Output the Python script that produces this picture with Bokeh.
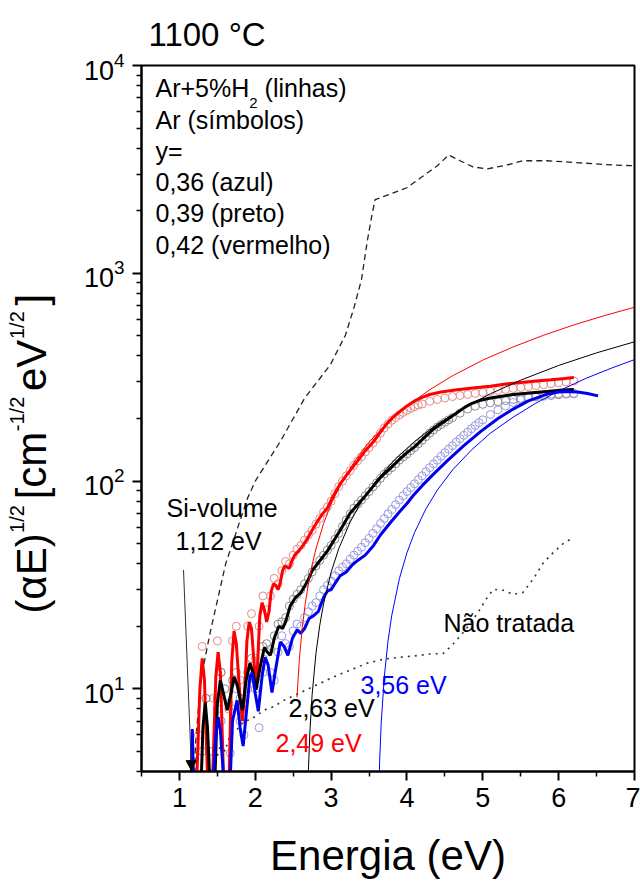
import math
from bokeh.plotting import figure
from bokeh.layouts import row
from bokeh.models import Label, Arrow, NormalHead, FixedTicker, Range1d
from bokeh.embed import file_html
from bokeh.resources import INLINE

FONT = "Liberation Sans"

# ---------------- data ----------------
x_ticks = [1, 2, 3, 4, 5, 6, 7]
x_tick_labels = ["1", "2", "3", "4", "5", "6", "7"]
x_minor = [0.5, 1.5, 2.5, 3.5, 4.5, 5.5, 6.5]
y_ticks = [10, 100, 1000, 10000]
y_minor = [4, 5, 6, 7, 8, 9, 20, 30, 40, 50, 60, 70, 80, 90,
           200, 300, 400, 500, 600, 700, 800, 900,
           2000, 3000, 4000, 5000, 6000, 7000, 8000, 9000]

# thick lines: Ar+5%H2
red_thick_e = [1.22, 1.27, 1.30, 1.33, 1.38, 1.43, 1.48, 1.51, 1.54, 1.59, 1.65, 1.69, 1.72, 1.75, 1.80,
               1.83, 1.86, 1.89, 1.92, 1.95, 1.99, 2.01, 2.03, 2.06, 2.09, 2.12, 2.15, 2.18, 2.21, 2.24,
               2.27, 2.30, 2.33, 2.36, 2.39, 2.42, 2.45, 2.48, 2.52, 2.57, 2.63, 2.69, 2.75, 2.82, 2.88,
               2.95, 3.03, 3.12, 3.23, 3.35, 3.45, 3.56, 3.65, 3.74, 3.82, 3.90, 4.00, 4.10, 4.20, 4.30,
               4.45, 4.66, 4.90, 5.10, 5.30, 5.50, 5.70, 5.90, 6.05, 6.20]
red_thick_y = [3.0, 10.0, 14.0, 11.0, 3.0, 3.0, 11.5, 15.0, 12.0, 3.0, 3.0, 13.5, 19.0, 16.5, 9.0,
               7.0, 9.5, 17.0, 21.0, 19.5, 12.5, 11.0, 13.0, 22.5, 26.0, 24.0, 21.0, 23.5, 29.5, 32.0,
               31.5, 30.0, 32.5, 37.0, 39.0, 38.5, 38.0, 41.0, 44.0, 46.0, 49, 53, 58, 64, 69,
               74, 85, 97, 110, 125, 140, 155, 172, 190, 203, 215, 230, 243, 253, 261,
               268, 275, 281, 286, 293, 298, 303, 307, 311, 315]

black_thick_e = [1.28, 1.31, 1.34, 1.37, 1.41, 1.46, 1.50, 1.54, 1.58, 1.63, 1.68, 1.72, 1.76, 1.83, 1.88,
                 1.93, 1.97, 2.01, 2.06, 2.12, 2.16, 2.20, 2.25, 2.31, 2.36, 2.40, 2.46, 2.53, 2.60, 2.69,
                 2.75, 2.82, 2.95, 3.04, 3.12, 3.25, 3.43, 3.55, 3.65, 3.78, 3.90, 4.00, 4.10, 4.22, 4.35,
                 4.53, 4.65, 4.75, 4.85, 4.97, 5.10, 5.40, 5.65, 5.85, 6.05, 6.20]
black_thick_y = [3.0, 6.5, 8.6, 6.5, 3.0, 3.0, 8.5, 11.0, 9.5, 7.9, 9.5, 11.4, 10.5, 7.9, 11.0,
                 13.3, 12.0, 9.9, 12.5, 15.8, 15.0, 14.5, 17.5, 20.0, 19.5, 21.0, 25.0, 27.5, 29, 33,
                 37, 40, 46, 52, 58, 70, 83, 94, 104, 115, 127, 137, 146, 161, 178,
                 198, 212, 225, 236, 245, 251, 261, 266, 270, 274, 276]

blue_thick_e = [1.15, 1.17, 1.19, 1.43, 1.48, 1.51, 1.54, 1.60, 1.66, 1.70, 1.76, 1.80, 1.84, 1.88, 1.93,
                1.96, 2.00, 2.04, 2.09, 2.13, 2.17, 2.22, 2.27, 2.33, 2.38, 2.43, 2.49, 2.55, 2.60, 2.65,
                2.71, 2.77, 2.83, 2.90, 2.95, 3.00, 3.06, 3.12, 3.20, 3.28, 3.35, 3.45, 3.56, 3.65, 3.78,
                3.90, 4.00, 4.08, 4.20, 4.35, 4.53, 4.75, 4.97, 5.20, 5.40, 5.60, 5.85, 6.00, 6.11, 6.25,
                6.38, 6.52]
blue_thick_y = [3.0, 6.4, 3.0, 3.0, 6.0, 7.3, 6.3, 3.0, 3.0, 7.0, 8.8, 6.5, 5.3, 7.5, 11.5,
                11.9, 9.5, 7.8, 11.5, 14.2, 13.0, 9.6, 12.5, 16.8, 16.0, 14.5, 17.5, 19.2, 18.5, 19.5,
                21.8, 22.5, 23.5, 27.5, 29.5, 30, 32.5, 35, 36.5, 39.5, 41.5, 44, 49, 55, 63,
                71, 78, 85, 95, 108, 125, 148, 173, 200, 222, 243, 262, 268, 270, 268,
                264, 257]

# symbols: Ar
red_sym_e = [1.25, 1.30, 1.35, 1.45, 1.50, 1.55, 1.65, 1.70, 1.75, 1.80, 1.85, 1.90, 1.95, 2.00, 2.05,
             2.10, 2.15, 2.20, 2.25, 2.30, 2.35, 2.40, 2.45, 2.50, 2.55, 2.60, 2.65, 2.70, 2.75, 2.80,
             2.85, 2.90, 2.95, 3.00, 3.05, 3.10, 3.15, 3.20, 3.25, 3.30, 3.35, 3.40, 3.45, 3.50, 3.55,
             3.60, 3.65, 3.70, 3.75, 3.80, 3.85, 3.90, 3.95, 4.00, 4.05, 4.10, 4.15, 4.20,
             4.3, 4.4, 4.5, 4.6, 4.7, 4.8, 4.9, 5.0, 5.1, 5.2, 5.3, 5.4, 5.5, 5.6, 5.7, 5.8, 5.9,
             6.0, 6.1, 6.2]
red_sym_y = [6, 16, 9, 9, 17, 12, 8, 17, 20, 11, 9, 20, 23, 14, 20,
             28, 24, 28, 34, 32, 37, 41, 40, 44, 47, 49, 52, 55, 58, 62,
             66, 71, 75, 80, 87, 94, 100, 106, 112, 119, 125, 131, 138, 145, 152,
             160, 170, 180, 188, 196, 202, 208, 214, 219, 224, 228, 232, 235,
             242, 247, 251, 255, 258, 261, 264, 267, 270, 273, 276, 279, 282, 285, 288, 291, 294,
             297, 300, 303]

black_sym_e = [1.30, 1.35, 1.40, 1.50, 1.55, 1.60, 1.65, 1.70, 1.75, 1.80, 1.85, 1.90, 1.95, 2.00, 2.05,
               2.10, 2.15, 2.20, 2.25, 2.30, 2.35, 2.40, 2.45, 2.50, 2.55, 2.60, 2.65, 2.70, 2.75, 2.80,
               2.85, 2.90, 2.95, 3.00, 3.05, 3.10, 3.15, 3.20, 3.25, 3.30, 3.35, 3.40, 3.45, 3.50, 3.55,
               3.60, 3.65, 3.70, 3.75, 3.80, 3.85, 3.90, 3.95, 4.00, 4.05, 4.10, 4.15, 4.20, 4.25, 4.30,
               4.35, 4.40, 4.45, 4.50, 4.55, 4.60,
               4.7, 4.8, 4.9, 5.0, 5.1, 5.2, 5.3, 5.4, 5.5, 5.6, 5.7, 5.8, 5.9, 6.0, 6.1, 6.2]
black_sym_y = [5, 9, 5, 9, 12, 10, 8.5, 11, 12, 9, 8.5, 12, 14, 11, 12.5,
               16, 16.5, 15.5, 18, 20.5, 21, 22, 25, 27, 28.5, 30, 32, 34, 36.5, 39,
               41.5, 44, 46.5, 49, 52.5, 56, 60.5, 65, 69.5, 74, 77.5, 81, 85, 89, 93.5,
               98, 103, 108, 112, 116, 121, 126, 130.5, 135, 140, 145, 151, 157, 163.5, 170,
               176, 182, 187, 192, 197, 202,
               212, 222, 229, 234, 238, 241, 244, 247, 250, 252, 254, 256, 258, 260, 262, 263]

blue_sym_e = [1.50, 1.55, 1.67, 1.70, 1.75, 1.80, 1.85, 1.90, 1.95, 2.00, 2.05, 2.10, 2.15, 2.20, 2.25,
              2.30, 2.35, 2.40, 2.45, 2.50, 2.55, 2.60, 2.65, 2.70, 2.75, 2.80, 2.85, 2.90, 2.95, 3.00,
              3.05, 3.10, 3.15, 3.20, 3.25, 3.30, 3.35, 3.40, 3.45, 3.50, 3.55, 3.60, 3.65, 3.70, 3.75,
              3.80, 3.85, 3.90, 3.95, 4.00, 4.05, 4.10, 4.15, 4.20, 4.25, 4.30, 4.35, 4.40, 4.45, 4.50,
              4.55, 4.60, 4.65, 4.70, 4.75, 4.80, 4.85, 4.90, 4.95, 5.00,
              5.1, 5.2, 5.3, 5.4, 5.5, 5.6, 5.7, 5.8, 5.9, 6.0, 6.1, 6.2]
blue_sym_y = [8, 7, 4.9, 8, 10, 7, 6, 10, 12.5, 10, 6.5, 12, 15, 12, 11,
              15, 18, 16.5, 16, 19, 20.5, 20, 22, 23.5, 25, 26, 28, 30, 31.5, 33,
              35, 37, 38.5, 40, 42, 44, 46, 48, 50.5, 53, 56, 59, 62.5, 66, 69.5,
              73, 77, 81, 85, 89, 93, 97, 101.5, 106, 111, 116, 121, 126, 131.5, 137,
              142.5, 148, 154, 160, 166, 172, 178.5, 185, 191, 197,
              209, 220, 230, 239, 246, 252, 257, 260, 262, 263, 264, 264]

# thin lines: Tauc extrapolations
red_fit_e = [2.55, 2.58, 2.62, 2.66, 2.70, 2.75, 2.80, 2.90, 3.00, 3.15, 3.30, 3.50, 3.75, 4.00,
             4.30, 4.60, 5.00, 5.40, 5.80, 6.20, 6.60, 7.00]
red_fit_y = [9.1, 13.7, 19.8, 25.8, 31.9, 39.5, 47.1, 62.3, 77.5, 100, 123, 154, 192, 230,
             275, 321, 382, 442, 503, 564, 625, 686]
black_fit_e = [2.69, 2.70, 2.72, 2.75, 2.80, 2.85, 2.90, 3.00, 3.10, 3.25, 3.40, 3.60, 3.85, 4.10,
               4.40, 4.75, 5.10, 5.50, 6.00, 6.50, 7.00]
black_fit_y = [2.9, 4.0, 6.2, 9.4, 14.8, 20.2, 25.6, 36.4, 47.2, 63.4, 79.6, 101, 128, 155,
               188, 225, 263, 306, 360, 414, 468]
blue_fit_e = [3.62, 3.64, 3.66, 3.70, 3.75, 3.80, 3.90, 4.00, 4.10, 4.25, 4.40, 4.60, 4.85, 5.10,
              5.40, 5.70, 6.00, 6.35, 6.70, 7.00]
blue_fit_y = [2.3, 4.5, 6.8, 11.3, 17.0, 22.6, 33.9, 45.2, 56.5, 73.5, 90.4, 113, 141, 170,
              203, 237, 271, 311, 350, 384]

# bulk Si (dashed) and untreated sample (dotted)
si_e = [1.20, 1.21, 1.28, 1.41, 1.61, 1.90, 2.00, 2.33, 2.65, 2.99, 3.19, 3.30, 3.40, 3.48, 3.54,
        3.58, 3.65, 4.00, 4.18, 4.40, 4.55, 4.70, 4.87, 5.06, 5.32, 5.53, 5.85, 6.28, 6.72, 7.00]
si_y = [3.5, 5.3, 11, 19, 40, 83, 100, 155, 250, 363, 505, 680, 930, 1450, 1920,
        2260, 2310, 2580, 2880, 3290, 3710, 3480, 3250, 3180, 3320, 3480, 3480, 3400, 3320, 3290]
nt_e = [1.45, 1.55, 1.60, 1.67, 1.75, 1.85, 1.94, 2.05, 2.15, 2.24, 2.40, 2.60, 2.80, 3.03, 3.25,
        3.48, 3.70, 3.91, 4.10, 4.31, 4.48, 4.60, 4.77, 4.93, 5.06, 5.14, 5.27, 5.40, 5.53, 5.67,
        5.80, 5.93, 6.06, 6.19]
nt_y = [4.1, 5.5, 5.0, 6.0, 6.3, 7.0, 7.1, 7.6, 8.0, 8.2, 8.9, 9.6, 10.4, 11.4, 12.3,
        13.3, 13.9, 14.2, 14.4, 14.7, 14.8, 16.3, 19.2, 23.1, 27.6, 30.1, 29.8, 28.5, 29.1, 34.0,
        40.5, 45.3, 50.0, 53.4]

legend_lines = ["Ar (símbolos)", "y=", "0,36 (azul)", "0,39 (preto)", "0,42 (vermelho)"]

# ---------------- layout ----------------
W, H = 640, 881
LEFT_W = 75         # strip holding the rotated y title
FL, FR, FT, FB = 141, 634, 62, 773   # frame position in page pixels
X0, X1 = 0.5, 7.0
Y0, Y1 = 4.0, 10000.0
LY0, LY1 = math.log10(Y0), math.log10(Y1)
PPD = (FB - FT) / (LY1 - LY0)


def px2x(px):
    return X0 + (px - FL) * (X1 - X0) / (FR - FL)


def py2y(py):
    return 10 ** (LY1 - (py - FT) / PPD)


EM = {'(': 0.333, ')': 0.333, 'α': 0.578, 'E': 0.667, '1': 0.556, '/': 0.278, '2': 0.556,
      '[': 0.278, ']': 0.278, 'c': 0.5, 'm': 0.833, '-': 0.333, 'e': 0.556, 'V': 0.667,
      'A': 0.667, 'r': 0.333, '+': 0.584, '5': 0.556, '%': 0.889, 'H': 0.722, ' ': 0.278}


def tw(s, size):
    return sum(EM.get(ch, 0.556) for ch in s) * size


# ---- left strip: rotated y title; its frame spans the same rows as the main frame ----
left = figure(width=LEFT_W, height=H, x_range=Range1d(0, LEFT_W), y_range=Range1d(FB, FT),
              output_backend="svg", toolbar_location=None, x_axis_type=None, y_axis_type=None,
              min_border_left=0, min_border_right=0, min_border_top=FT, min_border_bottom=H - FB)
left.outline_line_color = None
left.background_fill_color = "white"
left.border_fill_color = "white"

MAIN, SUP = 42, 20
segs = [("(αE)", False), ("1/2", True), ("[cm", False), ("-1/2", True),
        ("eV", False), ("1/2", True), ("]", False)]
ypos = 614.0
for s, sup in segs:
    size = SUP if sup else MAIN
    left.add_layout(Label(x=27 if sup else 54, y=ypos, text=s, text_font=FONT,
                          text_font_size=f"{size}px", text_color="black", angle=math.pi / 2))
    ypos -= tw(s, size) + (6 if sup else 1)

# ---- main plot ----
p = figure(width=W - LEFT_W, height=H, x_range=Range1d(X0, X1), y_range=Range1d(Y0, Y1),
           y_axis_type="log", output_backend="svg", toolbar_location=None,
           min_border_left=FL - LEFT_W, min_border_right=W - FR, min_border_top=FT,
           min_border_bottom=H - FB)
p.background_fill_color = "white"
p.border_fill_color = "white"
p.outline_line_color = "black"
p.outline_line_width = 2
p.xgrid.visible = False
p.ygrid.visible = False

p.title.text = "1100 °C"
p.title.text_font = FONT
p.title.text_font_size = "33px"
p.title.text_font_style = "normal"
p.title.text_color = "black"
p.title.align = "left"
p.title.offset = 7
p.title.standoff = 26

for ax in (p.xaxis[0], p.yaxis[0]):
    ax.axis_line_width = 2
    ax.major_tick_line_width = 2
    ax.minor_tick_line_width = 1.5
    ax.major_tick_out = 9
    ax.major_tick_in = 0
    ax.minor_tick_out = 5
    ax.minor_tick_in = 0
    ax.major_label_text_font = FONT
    ax.major_label_text_color = "black"

p.xaxis.ticker = FixedTicker(ticks=x_ticks, minor_ticks=x_minor)
p.xaxis.major_label_overrides = {t: l for t, l in zip(x_ticks, x_tick_labels)}
p.xaxis.major_label_text_font_size = "27px"
p.xaxis.major_label_standoff = 7
p.xaxis.axis_label = "Energia (eV)"
p.xaxis.axis_label_text_font = FONT
p.xaxis.axis_label_text_font_size = "42px"
p.xaxis.axis_label_text_font_style = "normal"
p.xaxis.axis_label_text_color = "black"
p.xaxis.axis_label_standoff = 22

p.yaxis.ticker = FixedTicker(ticks=y_ticks, minor_ticks=y_minor)
p.yaxis.major_label_text_font_size = "27px"
p.yaxis.major_label_standoff = 8

# marks
p.line(si_e, si_y, line_color="#222222", line_width=1.3, line_dash="6 4")
p.line(nt_e, nt_y, line_color="#333333", line_width=1.6, line_dash="2 5")

p.scatter(red_sym_e, red_sym_y, marker="circle", size=8, fill_color=None,
          line_color="#e88a8a", line_width=1)
p.scatter(black_sym_e, black_sym_y, marker="circle", size=8, fill_color=None,
          line_color="#8c8c8c", line_width=1)
p.scatter(blue_sym_e, blue_sym_y, marker="circle", size=8, fill_color=None,
          line_color="#9a9ae0", line_width=1)

p.line(red_thick_e, red_thick_y, line_color="#ff0000", line_width=3)
p.line(black_thick_e, black_thick_y, line_color="#000000", line_width=3)
p.line(blue_thick_e, blue_thick_y, line_color="#0000ee", line_width=3)

p.line(red_fit_e, red_fit_y, line_color="#ff0000", line_width=1)
p.line(black_fit_e, black_fit_y, line_color="#000000", line_width=1)
p.line(blue_fit_e, blue_fit_y, line_color="#0000ff", line_width=1)


def lab(px, py, text, size, color="black"):
    p.add_layout(Label(x=px2x(px), y=py2y(py), text=text, text_font=FONT,
                       text_font_size=f"{size}px", text_color=color))


# legend block (inside the frame)
LEG = 25
x0, b0, dl = 155, 99, 31.5
lab(x0, b0, "Ar+5%H", LEG)
w1 = tw("Ar+5%H", LEG)
lab(x0 + w1, b0 + 6, "2", 15)
lab(x0 + w1 + tw("2", 15) + tw(" ", LEG), b0, "(linhas)", LEG)
for i, s in enumerate(legend_lines):
    lab(x0, b0 + (i + 1) * dl, s, LEG)

# annotations
lab(166, 522, "Si-volume", 25)
lab(175, 555, "1,12 eV", 25)
lab(288, 723, "2,63 eV", 25)
lab(275, 758, "2,49 eV", 25, color="#ff0000")
lab(360, 700, "3,56 eV", 25, color="#0000ff")
lab(443, 638, "Não tratada", 25)

p.add_layout(Arrow(end=NormalHead(size=10, fill_color="black", line_color="black"),
                   x_start=px2x(183), y_start=py2y(570), x_end=px2x(191), y_end=py2y(772),
                   line_color="#333333", line_width=1))

layout = row(left, p, spacing=0)
open("out.html", "w").write(file_html(layout, INLINE))
